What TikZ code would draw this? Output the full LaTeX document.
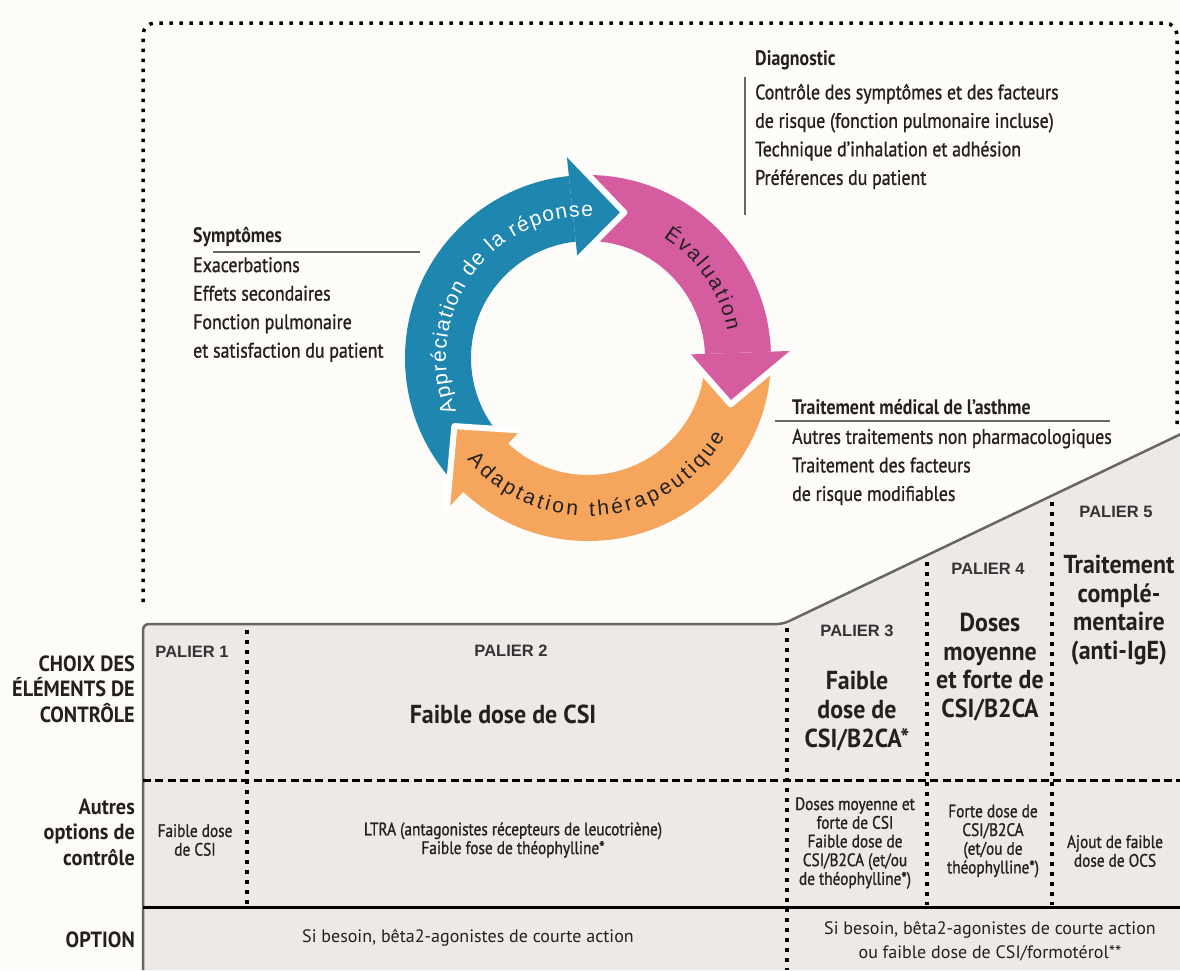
\documentclass[tikz,border=0pt]{standalone}
\usepackage{fontspec}
\setmainfont{PT Sans}
\newfontfamily\narrowfont[FakeStretch=0.85]{PT Sans}
\newfontfamily\notefont[FakeStretch=0.85, FakeBold=1]{PT Sans}
\newfontfamily\headfont[FakeStretch=0.92]{PT Sans}
\newfontfamily\arialfont{Liberation Sans}
\usetikzlibrary{calc,decorations.text}
\definecolor{bgcream}{RGB}{253,252,248}
\definecolor{stepfill}{RGB}{238,232,231}
\definecolor{cycblue}{RGB}{31,134,176}
\definecolor{cycpink}{RGB}{214,92,160}
\definecolor{cycorange}{RGB}{245,166,92}
\definecolor{inkdark}{RGB}{36,32,32}
\def\cycleband[#1](#2:#3){\fill[#1] (#2:183) arc[start angle=#2, end angle=#3, radius=183] -- (#3:117) arc[start angle=#3, end angle=#2, radius=117] -- cycle;}
\def\cyclehead[#1](#2){\fill[#1] (#2:207) -- ({#2-20}:150) -- (#2:99) -- cycle;
	\draw[white, line width=6pt, line join=round] (#2:207) -- ({#2-20}:150) -- (#2:99);}

\begin{document}
\begin{tikzpicture}[x=1pt, y=1pt,
	note/.style={font=\notefont\fontsize{21}{28.5}\selectfont, text=inkdark, align=left, anchor=west, inner sep=0},
	notehead/.style={font=\narrowfont\bfseries\fontsize{21}{24}\selectfont, text=inkdark, anchor=west, inner sep=0},
	noteline/.style={draw=black!60, line width=1.6pt},
	rowlabel/.style={font=\headfont\bfseries\fontsize{22}{25.5}\selectfont, text=inkdark, align=right, anchor=east, inner sep=0},
	palier/.style={font=\arialfont\bfseries\fontsize{16.5}{18}\selectfont, text=black!80, inner sep=0},
	stepmain/.style={font=\headfont\bfseries\fontsize{26}{28.7}\selectfont, text=inkdark, align=center, inner sep=0},
	smalltext/.style={font=\notefont\fontsize{18}{18.7}\selectfont, text=inkdark, align=center, inner sep=0},
	optiontext/.style={font=\fontsize{18}{24}\selectfont, text=inkdark, align=center, inner sep=0},
	dotline/.style={line width=3.5pt, dash pattern=on 3.5pt off 6.5pt},
	arcword/.style={decorate, decoration={text along path, text align=fit to path, text color=#1}}]
	%%%%% START %%%%%

	\fill[bgcream] (0,0) rectangle (1180,-970);
	\useasboundingbox (0,0) rectangle (1180,-970);

	\draw[dotline, rounded corners=12] (143,-602) -- (143,-23) -- (1177,-23) -- (1177,-430);

	% cycle
	\begin{scope}[shift={(588,-358)}]
		\cycleband[cycblue](224:96)
		\cycleband[cycpink](94:2)
		\cycleband[cycorange](0:-133)
		\cyclehead[cycblue](96)
		\cyclehead[cycpink](2)
		\cyclehead[cycorange](-133)
		\path[arcword=white, decoration={text={|\arialfont\fontsize{21}{21}\selectfont|Appréciation de la réponse}}] (202:142) arc[start angle=202, end angle=88, radius=142];
		\path[arcword=inkdark, decoration={text={|\arialfont\fontsize{21}{21}\selectfont|Évaluation}}] (58:142) arc[start angle=58, end angle=11, radius=142];
		\path[arcword=inkdark, decoration={text={|\arialfont\fontsize{21}{21}\selectfont|Adaptation thérapeutique}}] (220:158) arc[start angle=220, end angle=330, radius=158];
	\end{scope}

	\node[notehead] (symptitle) at (193,-237) {Symptômes};
	\node[note] (symptbody) at (193,-309.5) {Exacerbations\\Effets secondaires\\Fonction pulmonaire\\et satisfaction du patient};
	\coordinate (symptline) at (213,-252);
	\draw[noteline] (symptline) -- ++(207,0);

	\node[notehead] (diagtitle) at (755,-60) {Diagnostic};
	\node[note] (diagbody) at (755,-136.5) {Contrôle des symptômes et des facteurs\\de risque (fonction pulmonaire incluse)\\Technique d’inhalation et adhésion\\Préférences du patient};
	\coordinate (diagline) at (745,-77);
	\draw[noteline] (diagline) -- ++(0,-138);

	\node[notehead] (traittitle) at (792,-407) {Traitement médical de l’asthme};
	\node[note] (traitbody) at (792,-467) {Autres traitements non pharmacologiques\\Traitement des facteurs\\de risque modifiables};
	\coordinate (traitline) at (775,-421);
	\draw[noteline] (traitline) -- ++(335,0);

	% paliers
	\fill[stepfill] (143,-624) -- (783,-624) -- (1180,-435) -- (1180,-970) -- (143,-970) -- cycle;
	\draw[draw=black!60, line width=2.5pt, rounded corners=6] (143,-970) -- (143,-624) -- (783,-624) -- (1181,-434);
	\draw[line width=3pt, dash pattern=on 8pt off 4.3pt] (143,-780) -- (1180,-780);
	\draw[line width=3pt] (143,-907) -- (1180,-907);
	\draw[dotline] (247,-630) -- (247,-905);
	\draw[dotline] (787,-628) -- (787,-970);
	\draw[dotline] (927,-562) -- (927,-905);
	\draw[dotline] (1052,-502) -- (1052,-905);

	\node[rowlabel] (choix) at (135,-689) {CHOIX DES\\ÉLÉMENTS DE\\CONTRÔLE};
	\node[rowlabel] (autres) at (135,-832) {Autres\\options de\\contrôle};
	\node[rowlabel] (option) at (135,-940) {OPTION};

	\node[palier] (p1) at (192,-652) {PALIER 1};
	\node[palier] (p2) at (511,-651) {PALIER 2};
	\node[palier] (p3) at (857,-631) {PALIER 3};
	\node[palier] (p4) at (988,-569) {PALIER 4};
	\node[palier] (p5) at (1116,-512) {PALIER 5};

	\node[stepmain] (p2main) at (503,-714) {Faible dose de CSI};
	\node[stepmain] (p3main) at (857,-711) {Faible\\dose de\\CSI/B2CA*};
	\node[stepmain] (p4main) at (990,-667) {Doses\\moyenne\\et forte de\\CSI/B2CA};
	\node[stepmain] (p5main) at (1119,-610) {Traitement\\complé-\\mentaire\\(anti-IgE)};

	\node[smalltext] (p1other) at (195,-840) {Faible dose\\de CSI};
	\node[smalltext] (p2other) at (513,-840) {LTRA (antagonistes récepteurs de leucotriène)\\Faible fose de théophylline*};
	\node[smalltext] (p3other) at (855,-843) {Doses moyenne et\\forte de CSI\\Faible dose de\\CSI/B2CA (et/ou\\de théophylline*)};
	\node[smalltext] (p4other) at (993,-841) {Forte dose de\\CSI/B2CA\\(et/ou de\\théophylline*)};
	\node[smalltext] (p5other) at (1115,-851) {Ajout de faible\\dose de OCS};

	\node[optiontext] (lowoption) at (468,-938) {Si besoin, bêta2-agonistes de courte action};
	\node[optiontext] (highoption) at (990,-941) {Si besoin, bêta2-agonistes de courte action\\ou faible dose de CSI/formotérol**};

	%%%%% END %%%%%
\end{tikzpicture}
\end{document}
